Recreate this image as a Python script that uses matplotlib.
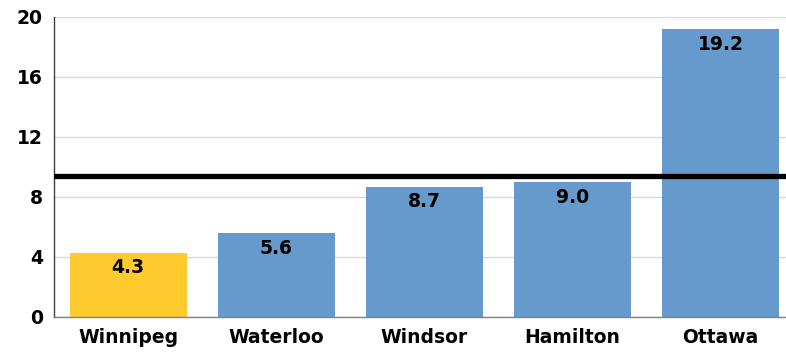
import matplotlib
matplotlib.use("Agg")
import matplotlib.pyplot as plt

cities = ["Winnipeg", "Waterloo", "Windsor", "Hamilton", "Ottawa"]
values = [4.3, 5.6, 8.7, 9.0, 19.2]
bar_colors = ["#FFCA2E", "#6699CC", "#6699CC", "#6699CC", "#6699CC"]
reference_value = 9.37
yticks = [0, 4, 8, 12, 16, 20]

plt.rcParams['font.family'] = ['DejaVu Sans']
plt.rcParams['font.weight'] = 'bold'

fig = plt.figure(figsize=(7.86, 3.54), dpi=100)
ax = fig.add_axes([54/786, 1-317/354, (794.5-54)/786, 300/354])

x = list(range(len(cities)))
bars = ax.bar(x, values, width=0.79, color=bar_colors, zorder=2)
ax.axhline(reference_value, color="black", lw=3.8, zorder=3)

for xi, v in zip(x, values):
    ax.annotate(f"{v:.1f}", (xi, v), xytext=(0, -4), textcoords="offset points",
                ha="center", va="top", fontsize=13.5, fontweight="bold", zorder=4)

ax.set_xlim(-0.5, 4.5)
ax.set_ylim(0, 20)
ax.set_yticks(yticks)
ax.set_yticklabels([str(t) for t in yticks])
ax.set_xticks(x)
ax.set_xticklabels(cities)
ax.tick_params(axis="both", length=0, labelsize=13.5)
ax.tick_params(axis="y", pad=8)
ax.tick_params(axis="x", pad=8)
for lab in ax.get_xticklabels() + ax.get_yticklabels():
    lab.set_fontweight("bold")

ax.grid(axis="y", color="#d9d9d9", lw=1, zorder=0)
ax.set_axisbelow(True)
for s in ["top", "right"]:
    ax.spines[s].set_visible(False)
ax.spines["left"].set_color("#404040")
ax.spines["bottom"].set_color("#808080")
ax.spines["left"].set_linewidth(1)
ax.spines["bottom"].set_linewidth(1)

fig.savefig("out.png", dpi=100)
